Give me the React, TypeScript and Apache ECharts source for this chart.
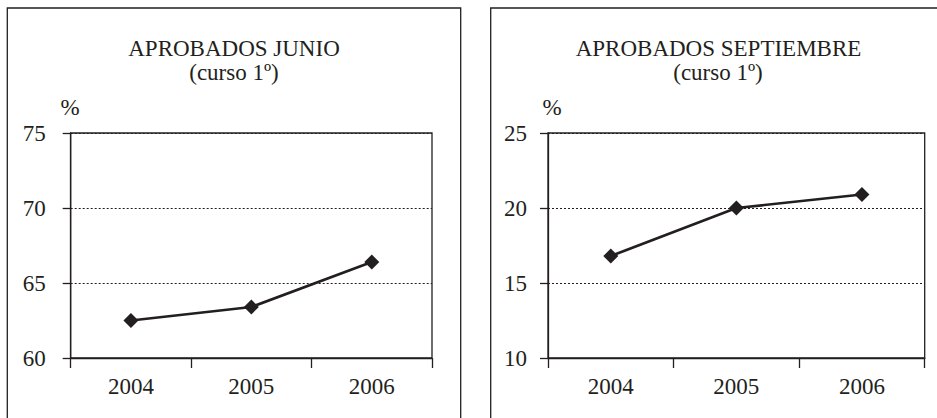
import React, { useEffect, useRef } from "react";
import * as echarts from "echarts";

const years = ["2004", "2005", "2006"];
const junio = [62.5, 63.4, 66.4];
const septiembre = [16.8, 20.0, 20.9];
const junioAxis = { min: 60, max: 75, interval: 5 };
const septAxis = { min: 10, max: 25, interval: 5 };
const titles = ["APROBADOS JUNIO", "APROBADOS SEPTIEMBRE"];
const subtitle = "(curso 1º)";
const unit = "%";

const INK = "#231f20";
const FONT = "Liberation Serif";
const FS = 23;

export default function App() {
  const ref = useRef<HTMLDivElement>(null);
  useEffect(() => {
    document.body.style.margin = "0";
    const chart = echarts.init(ref.current!, null, { renderer: "svg" });
    const xAxisBase = (gridIndex: number) => ({
      type: "category",
      gridIndex,
      data: years,
      boundaryGap: true,
      axisLine: { lineStyle: { color: INK, width: 1.3 } },
      axisTick: { show: true, inside: false, length: 10, lineStyle: { color: INK, width: 1.3 } },
      axisLabel: { color: INK, fontFamily: FONT, fontSize: FS, margin: 17 },
      splitLine: { show: false },
    });
    const yAxisBase = (gridIndex: number, ax: any, margin: number) => ({
      type: "value",
      gridIndex,
      min: ax.min,
      max: ax.max,
      interval: ax.interval,
      axisLine: { show: true, lineStyle: { color: INK, width: 1.3 } },
      axisTick: { show: true, inside: false, length: 8, lineStyle: { color: INK, width: 1.3 } },
      axisLabel: { color: INK, fontFamily: FONT, fontSize: FS, margin },
      splitLine: { show: true, lineStyle: { color: INK, type: [2, 2], width: 1.2 } },
    });
    const seriesBase = (i: number, data: number[]) => ({
      type: "line",
      xAxisIndex: i,
      yAxisIndex: i,
      data,
      symbol: "diamond",
      symbolSize: 15,
      lineStyle: { color: INK, width: 2.7 },
      itemStyle: { color: INK },
      z: 5,
    });
    const text = (x: number, y: number, t: string) => ({
      type: "text",
      x,
      y,
      style: {
        text: t,
        fill: INK,
        fontFamily: FONT,
        fontSize: FS,
        textAlign: "center",
        textVerticalAlign: "middle",
      },
    });
    chart.setOption({
      animation: false,
      backgroundColor: "#ffffff",
      textStyle: { fontFamily: FONT },
      grid: [
        { left: 70.7, top: 133, width: 361.3, height: 225, show: true, borderColor: INK, borderWidth: 1.3, backgroundColor: "transparent" },
        { left: 548, top: 133, width: 376.7, height: 225, show: true, borderColor: INK, borderWidth: 1.3, backgroundColor: "transparent" },
      ],
      xAxis: [xAxisBase(0), xAxisBase(1)],
      yAxis: [yAxisBase(0, junioAxis, 25), yAxisBase(1, septAxis, 21)],
      series: [seriesBase(0, junio), seriesBase(1, septiembre)],
      graphic: [
        { type: "rect", shape: { x: 7.3, y: 8, width: 453.4, height: 430 }, style: { fill: "none", stroke: INK, lineWidth: 1.3 } },
        { type: "rect", shape: { x: 490.7, y: 8, width: 470, height: 430 }, style: { fill: "none", stroke: INK, lineWidth: 1.3 } },
        text(234, 48, titles[0]),
        text(234, 72, subtitle),
        text(718.5, 48, titles[1]),
        text(718, 72, subtitle),
        text(70, 107, unit),
        text(552, 107, unit),
      ],
    });
    return () => chart.dispose();
  }, []);
  return <div ref={ref} style={{ position: "absolute", left: 0, top: 0, width: 937, height: 418 }} />;
}
